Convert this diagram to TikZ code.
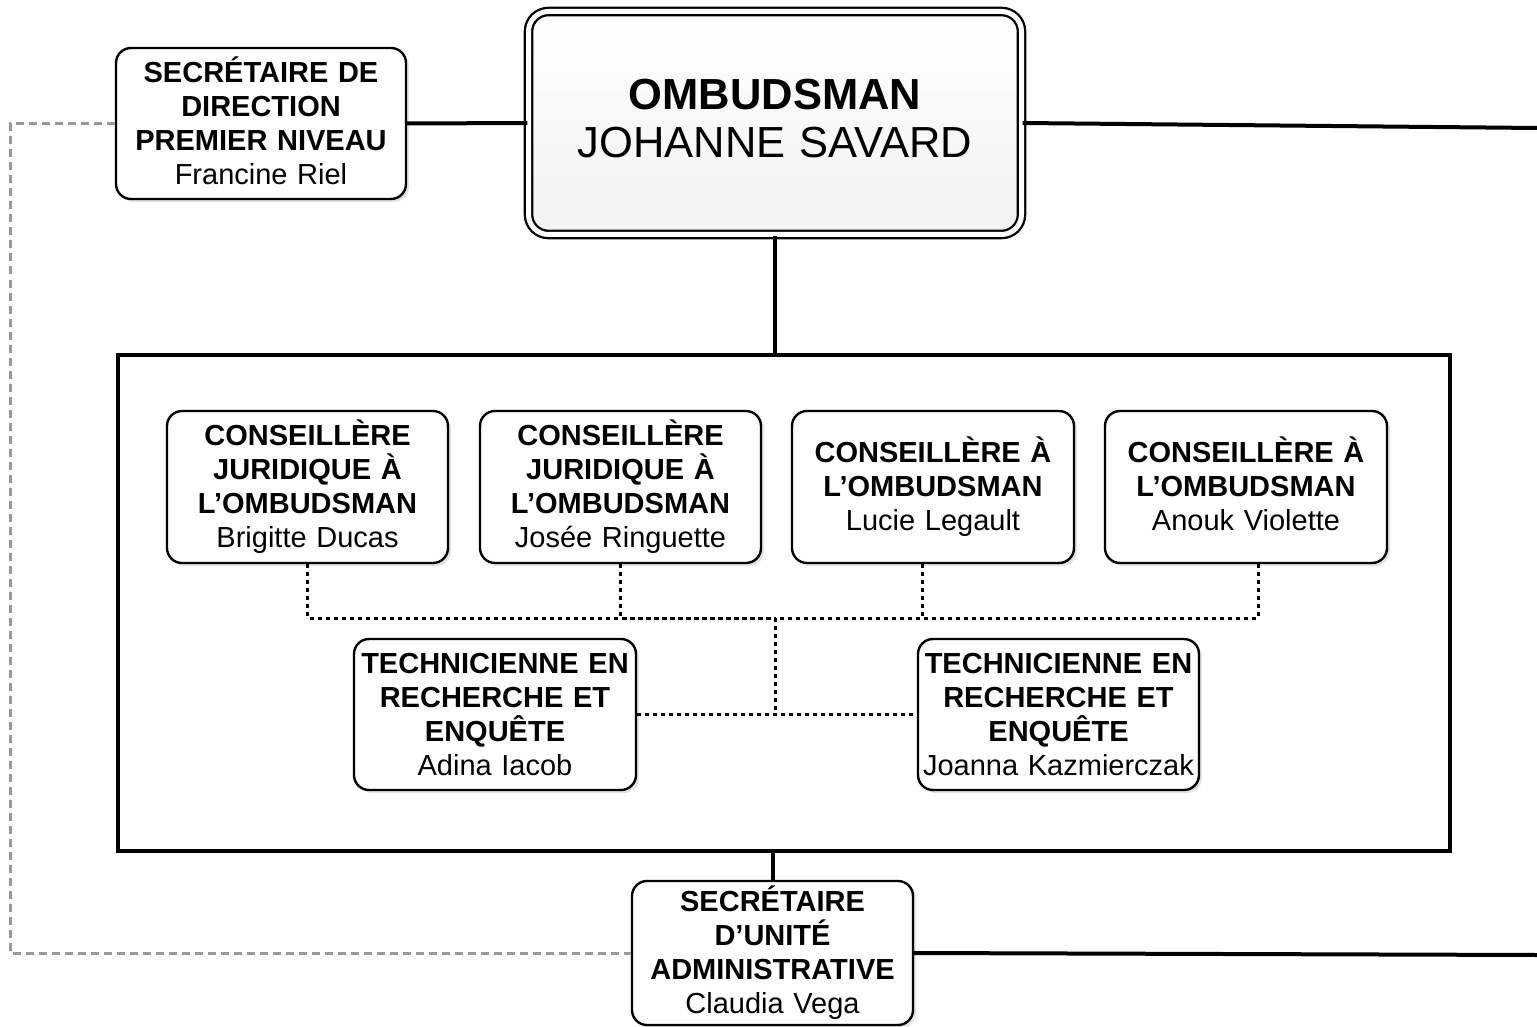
\documentclass[tikz,border=0pt]{standalone}
\usepackage{fontspec}
\setmainfont{Liberation Sans}
\usetikzlibrary{shadows,calc}
\begin{document}
\begin{tikzpicture}[x=1pt,y=-1pt,
  orgbox/.style={draw=black, line width=2.4pt, rounded corners=15pt, fill=white,
    drop shadow={shadow xshift=3pt, shadow yshift=-3pt, opacity=0.22},
    align=center, inner sep=0pt, font=\fontsize{29}{34}\selectfont},
  solidcon/.style={line width=4pt, black},
  dotcon/.style={line width=3pt, black, dash pattern=on 4pt off 4pt},
  greycon/.style={line width=3pt, black!40, dash pattern=on 8pt off 5pt}
]
\useasboundingbox (0,0) rectangle (1537,1027);

% frame around the advisers
\node[draw=black, line width=4pt, minimum width=1332pt, minimum height=496pt, inner sep=0pt] (big) at (784,603) {};

% top row
\node[orgbox, minimum width=290pt, minimum height=151pt, text width=284pt] (sd) at (261,123.5)
  {\textbf{SECRÉTAIRE DE}\\\textbf{DIRECTION}\\\textbf{PREMIER NIVEAU}\\Francine Riel\vphantom{g}};

\node[draw=black, line width=2.3pt, double=white, double distance=5pt, rounded corners=20pt,
  top color=white, bottom color=black!5, minimum width=493pt, minimum height=223pt,
  inner sep=0pt, align=center, text width=480pt, font=\fontsize{43.5}{48}\selectfont]
  (omb) at (775,123) {\textbf{OMBUDSMAN}\\JOHANNE SAVARD\vphantom{g}};

% advisers
\node[orgbox, minimum width=281pt, minimum height=152pt, text width=276pt] (c1) at (307.5,487)
  {\textbf{CONSEILLÈRE}\\\textbf{JURIDIQUE À}\\\textbf{L’OMBUDSMAN}\\Brigitte Ducas};
\node[orgbox, minimum width=281pt, minimum height=152pt, text width=276pt] (c2) at (620.5,487)
  {\textbf{CONSEILLÈRE}\\\textbf{JURIDIQUE À}\\\textbf{L’OMBUDSMAN}\\Josée Ringuette};
\node[orgbox, minimum width=282pt, minimum height=152pt, text width=276pt] (c3) at (933,487)
  {\textbf{CONSEILLÈRE À}\\\textbf{L’OMBUDSMAN}\\Lucie Legault};
\node[orgbox, minimum width=282pt, minimum height=152pt, text width=276pt] (c4) at (1246,487)
  {\textbf{CONSEILLÈRE À}\\\textbf{L’OMBUDSMAN}\\Anouk Violette\vphantom{g}};

% technicians
\node[orgbox, minimum width=282pt, minimum height=151pt, text width=280pt] (t1) at (495,714.5)
  {\textbf{TECHNICIENNE EN}\\\textbf{RECHERCHE ET}\\\textbf{ENQUÊTE}\\Adina Iacob};
\node[orgbox, minimum width=281pt, minimum height=151pt, text width=280pt] (t2) at (1058.5,714.5)
  {\textbf{TECHNICIENNE EN}\\\textbf{RECHERCHE ET}\\\textbf{ENQUÊTE}\\Joanna Kazmierczak};

% bottom secretary
\node[orgbox, minimum width=281pt, minimum height=144pt, text width=276pt] (sdu) at (772.5,953)
  {\textbf{SECRÉTAIRE}\\\textbf{D’UNITÉ}\\\textbf{ADMINISTRATIVE}\\Claudia Vega};

% free ends
\coordinate (rA) at (1537,128);
\coordinate (rB) at (1537,955);
\coordinate (J) at (775,618);

% solid connectors
\draw[solidcon] (sd.east) -- (omb.west);
\draw[solidcon] (omb.east) -- (rA);
\draw[solidcon] (omb.south) -- (omb.south |- big.north);
\draw[solidcon] (sdu.north) -- (sdu.north |- big.south);
\draw[solidcon] (sdu.east) -- (rB);

% grey dashed link
\draw[greycon] (sd.west) -- ++(-104,0) |- (sdu.west);

% dotted links
\draw[dotcon] (c1.south) |- (J);
\draw[dotcon] (c2.south) |- (J);
\draw[dotcon] ([xshift=-11pt]c3.south) |- (J);
\draw[dotcon] ([xshift=12pt]c4.south) |- (J);
\draw[dotcon] (J) -- (J |- t1.east);
\draw[dotcon] (t1.east) -- (t2.west);
\end{tikzpicture}
\end{document}
